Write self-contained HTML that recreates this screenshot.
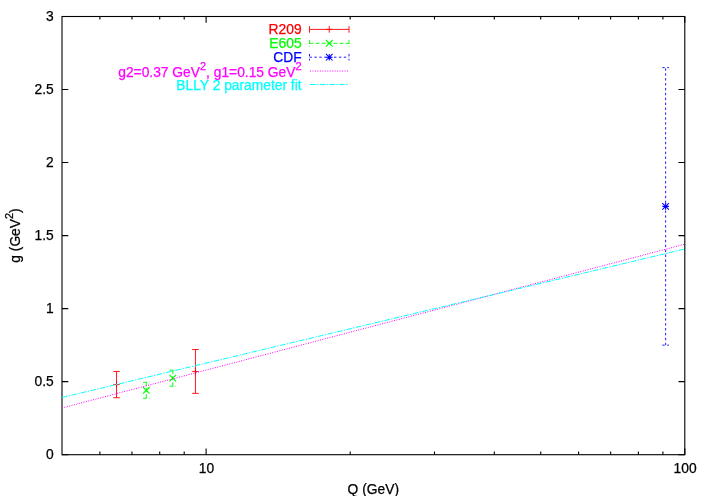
<!DOCTYPE html><html><head><meta charset="utf-8"><title>g vs Q</title><style>html,body{margin:0;padding:0;background:#fff}svg{display:block;will-change:transform}text{font-family:"Liberation Sans",sans-serif;font-size:13.8px;stroke-width:0.25px}</style></head><body>
<svg width="708" height="496" viewBox="0 0 708 496">
<rect width="708" height="496" fill="#fff"/>
<g stroke="#000" stroke-width="1.1" fill="none">
<rect x="62" y="16.5" width="622.8" height="438.2"/>
<path d="M62 454.7h6.3M684.8 454.7h-6.3"/>
<path d="M62 381.667h6.3M684.8 381.667h-6.3"/>
<path d="M62 308.633h6.3M684.8 308.633h-6.3"/>
<path d="M62 235.6h6.3M684.8 235.6h-6.3"/>
<path d="M62 162.567h6.3M684.8 162.567h-6.3"/>
<path d="M62 89.5333h6.3M684.8 89.5333h-6.3"/>
<path d="M62 16.5h6.3M684.8 16.5h-6.3"/>
<path d="M99.9039 454.7v-3.1M99.9039 16.5v3.1"/>
<path d="M131.951 454.7v-3.1M131.951 16.5v3.1"/>
<path d="M159.712 454.7v-3.1M159.712 16.5v3.1"/>
<path d="M184.198 454.7v-3.1M184.198 16.5v3.1"/>
<path d="M206.102 454.7v-6.3M206.102 16.5v6.3"/>
<path d="M350.205 454.7v-3.1M350.205 16.5v3.1"/>
<path d="M434.499 454.7v-3.1M434.499 16.5v3.1"/>
<path d="M494.307 454.7v-3.1M494.307 16.5v3.1"/>
<path d="M540.698 454.7v-3.1M540.698 16.5v3.1"/>
<path d="M578.602 454.7v-3.1M578.602 16.5v3.1"/>
<path d="M610.649 454.7v-3.1M610.649 16.5v3.1"/>
<path d="M638.409 454.7v-3.1M638.409 16.5v3.1"/>
<path d="M662.896 454.7v-3.1M662.896 16.5v3.1"/>
<path d="M684.8 454.7v-6.3M684.8 16.5v6.3"/>
</g>
<text x="53.8" y="459" text-anchor="end" stroke="#000">0</text>
<text x="53.8" y="385.967" text-anchor="end" stroke="#000">0.5</text>
<text x="53.8" y="312.933" text-anchor="end" stroke="#000">1</text>
<text x="53.8" y="239.9" text-anchor="end" stroke="#000">1.5</text>
<text x="53.8" y="166.867" text-anchor="end" stroke="#000">2</text>
<text x="53.8" y="93.8333" text-anchor="end" stroke="#000">2.5</text>
<text x="53.8" y="20.8" text-anchor="end" stroke="#000">3</text>
<text x="206.402" y="473.4" text-anchor="middle" stroke="#000">10</text>
<text x="685.1" y="473.4" text-anchor="middle" stroke="#000">100</text>
<text x="373.3" y="493.8" text-anchor="middle" stroke="#000">Q (GeV)</text>
<text transform="translate(20.2,235.5) rotate(-90)" text-anchor="middle" stroke="#000">g (GeV<tspan dy="-7" font-size="11">2</tspan><tspan dy="7">)</tspan></text>
<g stroke="#ff0000" stroke-width="0.9" fill="none">
<path d="M116.544 397.734V371.442M113.244 397.734h6.6M113.244 371.442h6.6"/>
<path d="M113.244 384.588h6.6M116.544 381.288v6.6"/>
</g>
<g stroke="#ff0000" stroke-width="0.9" fill="none">
<path d="M195.439 393.352V349.532M192.139 393.352h6.6M192.139 349.532h6.6"/>
<path d="M192.139 371.442h6.6M195.439 368.142v6.6"/>
</g>
<g stroke="#00ff00" stroke-width="0.9" fill="none">
<path d="M146.294 398.201V382.295M142.994 398.201h6.6M142.994 382.295h6.6" stroke-dasharray="4,2"/>
<path stroke-width="1.15" d="M142.994 386.985l6.6 6.6M142.994 393.585l6.6 -6.6"/>
</g>
<g stroke="#00ff00" stroke-width="0.9" fill="none">
<path d="M172.804 386.195V370.127M169.504 386.195h6.6M169.504 370.127h6.6" stroke-dasharray="4,2"/>
<path stroke-width="1.15" d="M169.504 374.861l6.6 6.6M169.504 381.461l6.6 -6.6"/>
</g>
<g stroke="#0000ff" stroke-width="0.9" fill="none">
<path d="M665.627 345.15V67.6233M662.327 345.15h6.6M662.327 67.6233h6.6" stroke-dasharray="2.4,2.5"/>
<path stroke-width="1.05" d="M662.327 206.387h6.6M665.627 203.087v6.6M662.327 203.087l6.6 6.6M662.327 209.687l6.6 -6.6"/>
</g>
<line x1="62" y1="408.0" x2="684.8" y2="244.2" stroke="#ff00ff" stroke-width="1" stroke-dasharray="1,1.47"/>
<line x1="62" y1="397.5" x2="684.8" y2="249.0" stroke="#00ffff" stroke-width="1" stroke-dasharray="5.4,1.5,1.4,1.45"/>
<text x="301.6" y="33.9" text-anchor="end" fill="#ff0000" stroke="#ff0000">R209</text>
<text x="301.6" y="47.5" text-anchor="end" fill="#00ff00" stroke="#00ff00">E605</text>
<text x="301.6" y="61.5" text-anchor="end" fill="#0000ff" stroke="#0000ff">CDF</text>
<text x="301.6" y="76.8" text-anchor="end" fill="#ff00ff" stroke="#ff00ff">g2=0.37 GeV<tspan dy="-6.7" font-size="11">2</tspan><tspan dy="6.7">, g1=0.15 GeV</tspan><tspan dy="-6.7" font-size="11">2</tspan></text>
<text x="301.6" y="89.5" text-anchor="end" fill="#00ffff" stroke="#00ffff">BLLY 2 parameter fit</text>
<g stroke="#ff0000" stroke-width="0.9" fill="none">
<path d="M309.5 29.4H349M309.5 26.1v6.6M349 26.1v6.6"/>
<path d="M325.95 29.4h6.6M329.25 26.1v6.6"/>
</g>
<g stroke="#00ff00" stroke-width="0.9" fill="none">
<path d="M309.5 43.3H349M309.5 40v6.6M349 40v6.6" stroke-dasharray="4,2"/>
<path stroke-width="1.15" d="M325.95 40l6.6 6.6M325.95 46.6l6.6 -6.6"/>
</g>
<g stroke="#0000ff" stroke-width="0.9" fill="none">
<path d="M309.5 57.2H349M309.5 53.9v6.6M349 53.9v6.6" stroke-dasharray="2.4,2.5"/>
<path stroke-width="1.05" d="M325.95 57.2h6.6M329.25 53.9v6.6M325.95 53.9l6.6 6.6M325.95 60.5l6.6 -6.6"/>
</g>
<line x1="310" y1="71" x2="348" y2="71" stroke="#ff00ff" stroke-dasharray="1,1.47"/>
<line x1="310" y1="84.5" x2="348" y2="84.5" stroke="#00ffff" stroke-dasharray="5.4,1.5,1.4,1.45"/>
</svg></body></html>
